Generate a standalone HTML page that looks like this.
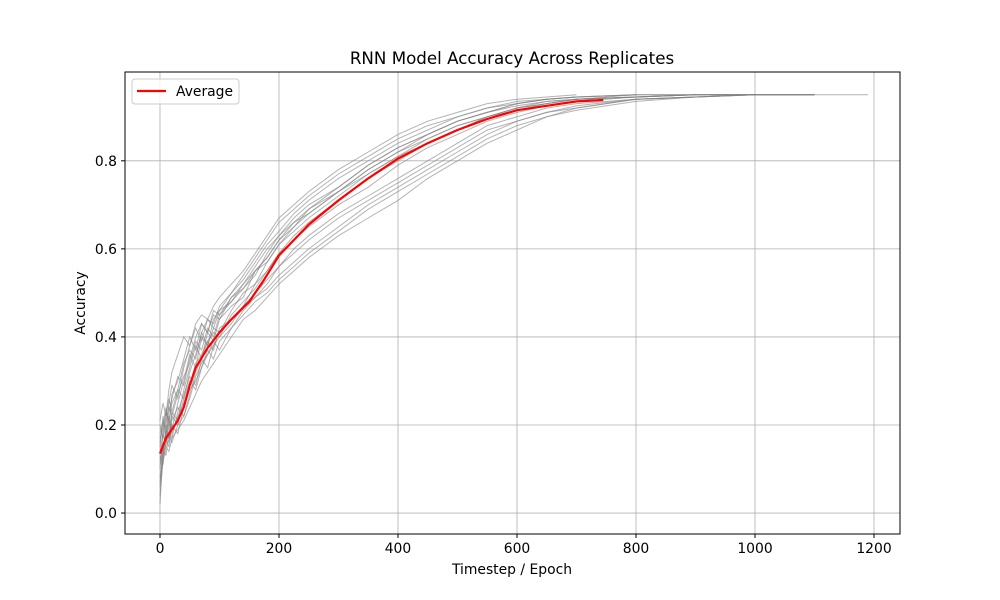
<!DOCTYPE html>
<html><head><meta charset="utf-8">
<style>
html,body{margin:0;padding:0;background:#fff;}
svg{display:block;font-family:"DejaVu Sans","Liberation Sans",sans-serif;}
</style></head>
<body>
<svg id="chart" width="1000" height="600" viewBox="0 0 1000 600">
<rect width="1000" height="600" fill="#fff"/>
<text x="512" y="64" font-size="16.7" text-anchor="middle">RNN Model Accuracy Across Replicates</text>
<g id="grid"></g>
<g id="series"></g>
<g id="avg"></g>
<rect x="125" y="72" width="775" height="462" fill="none" stroke="#000" stroke-width="1"/>
<g id="ticks"></g>
<text x="512" y="574" font-size="13.9" text-anchor="middle">Timestep / Epoch</text>
<text x="85" y="303" font-size="13.9" text-anchor="middle" transform="rotate(-90 85 303)">Accuracy</text>
<g>
<rect x="132" y="79" width="107" height="25" rx="3" fill="#fff" fill-opacity="0.8" stroke="#ccc"/>
<line x1="137" y1="91" x2="166" y2="91" stroke="red" stroke-width="2.2"/>
<text x="176" y="96" font-size="13.9">Average</text>
</g>
</svg>
<script>
const xTicks = [0,200,400,600,800,1000,1200];
const yTicks = [0.0,0.2,0.4,0.6,0.8];
const xs = [0,5,10,15,20,30,40,50,60,70,80,90,100,120,140,160,180,200,225,250,300,350,400,450,500,550,600,650,700,800,900,1000,1100,1190];
const r1 = [0.10,0.18,0.15,0.22,0.19,0.25,0.30,0.36,0.33,0.40,0.38,0.42,0.41,0.46,0.50,0.52,0.57,0.61,0.64,0.67,0.72,0.77,0.81,0.85,0.88,0.90,0.92,0.93,0.94,0.945,0.95,0.95];
const r2 = [0.04,0.12,0.20,0.17,0.23,0.21,0.28,0.33,0.38,0.35,0.41,0.39,0.44,0.47,0.49,0.55,0.58,0.62,0.66,0.68,0.73,0.78,0.82,0.86,0.89,0.91,0.925,0.935,0.94,0.945,0.95,0.95,0.95,0.95];
const r3 = [0.06,0.16,0.13,0.18,0.16,0.20,0.22,0.26,0.31,0.34,0.36,0.38,0.40,0.43,0.47,0.50,0.53,0.56,0.60,0.63,0.68,0.72,0.76,0.80,0.84,0.88,0.90,0.92,0.93,0.94,0.945];
const r4 = [0.16,0.20,0.24,0.19,0.27,0.30,0.35,0.40,0.37,0.43,0.41,0.45,0.44,0.49,0.52,0.56,0.60,0.63,0.67,0.70,0.74,0.79,0.83,0.86,0.89,0.91,0.93,0.94,0.945,0.95];
const r5 = [0.12,0.15,0.18,0.21,0.18,0.22,0.25,0.29,0.34,0.36,0.39,0.41,0.40,0.45,0.48,0.51,0.55,0.59,0.62,0.65,0.70,0.74,0.79,0.83,0.86,0.89,0.91,0.925,0.935,0.945,0.95,0.95,0.95];
const r6 = [0.20,0.17,0.22,0.26,0.23,0.28,0.26,0.32,0.36,0.41,0.38,0.44,0.46,0.48,0.51,0.55,0.57,0.61,0.65,0.69,0.73,0.78,0.82,0.85,0.88,0.90,0.92,0.935,0.94,0.95,0.95];
const r7 = [0.02,0.14,0.17,0.15,0.20,0.18,0.24,0.28,0.30,0.33,0.37,0.35,0.39,0.42,0.46,0.49,0.51,0.54,0.57,0.60,0.65,0.70,0.74,0.78,0.82,0.86,0.89,0.91,0.92,0.94,0.945,0.95];
const r8 = [0.15,0.22,0.19,0.25,0.29,0.26,0.33,0.38,0.42,0.39,0.44,0.43,0.47,0.50,0.53,0.57,0.61,0.64,0.68,0.71,0.76,0.80,0.84,0.87,0.90,0.92,0.93,0.94,0.945,0.95];
const r9 = [0.13,0.11,0.16,0.19,0.17,0.23,0.27,0.31,0.29,0.35,0.39,0.37,0.42,0.44,0.47,0.52,0.55,0.59,0.63,0.66,0.71,0.76,0.80,0.84,0.87,0.90,0.915,0.93,0.94,0.945,0.95,0.95,0.95];
const r10 = [0.18,0.21,0.17,0.23,0.26,0.31,0.29,0.35,0.40,0.43,0.41,0.46,0.45,0.49,0.51,0.54,0.59,0.63,0.66,0.69,0.74,0.79,0.83,0.86,0.89,0.91,0.93,0.94,0.945];
const r11 = [0.08,0.13,0.18,0.16,0.21,0.24,0.22,0.27,0.32,0.35,0.33,0.38,0.41,0.44,0.47,0.49,0.52,0.56,0.59,0.62,0.67,0.71,0.75,0.79,0.83,0.87,0.89,0.91,0.925,0.94,0.945,0.95,0.95];
const r12 = [0.17,0.19,0.23,0.21,0.25,0.28,0.34,0.37,0.35,0.41,0.44,0.42,0.46,0.50,0.54,0.58,0.62,0.66,0.69,0.72,0.77,0.81,0.85,0.88,0.90,0.92,0.935,0.94,0.945,0.95,0.95];
const r13 = [0.07,0.12,0.15,0.14,0.17,0.19,0.21,0.24,0.27,0.30,0.32,0.34,0.36,0.40,0.44,0.46,0.49,0.52,0.55,0.58,0.63,0.67,0.71,0.76,0.80,0.84,0.87,0.90,0.915,0.935,0.945,0.95,0.95];
const r14 = [0.21,0.25,0.22,0.28,0.32,0.36,0.40,0.38,0.43,0.45,0.44,0.47,0.49,0.52,0.55,0.59,0.63,0.67,0.70,0.73,0.78,0.82,0.86,0.89,0.91,0.93,0.94,0.945,0.95];
const r15 = [0.11,0.14,0.19,0.17,0.22,0.20,0.26,0.30,0.28,0.33,0.36,0.39,0.37,0.42,0.45,0.48,0.50,0.53,0.56,0.59,0.64,0.69,0.73,0.77,0.81,0.85,0.88,0.90,0.92,0.94,0.945,0.95];
const r16 = [0.14,0.18,0.21,0.24,0.22,0.27,0.31,0.34,0.39,0.37,0.42,0.40,0.45,0.48,0.52,0.55,0.58,0.62,0.65,0.68,0.73,0.77,0.81,0.84,0.87,0.90,0.92,0.93,0.94,0.945,0.95,0.95,0.95];
const replicates = [r1,r2,r3,r4,r5,r6,r7,r8,r9,r10,r11,r12,r13,r14,r15,r16];
const avgX = [0,10,20,30,40,50,60,80,100,120,150,175,200,250,300,350,400,450,500,550,600,650,700,745];
const avgY = [0.135,0.17,0.19,0.21,0.24,0.29,0.33,0.375,0.41,0.44,0.48,0.53,0.585,0.655,0.71,0.76,0.805,0.84,0.87,0.895,0.915,0.925,0.935,0.938];

const NS = "http://www.w3.org/2000/svg";
const L=125,R=900,T=72,B=534;
const xMin=-58.8,xMax=1243.7,yMin=-0.0476,yMax=1.0017;
function sx(v){return L+(v-xMin)/(xMax-xMin)*(R-L);}
function sy(v){return B-(v-yMin)/(yMax-yMin)*(B-T);}
function mk(tag,attrs,parent){const e=document.createElementNS(NS,tag);for(const k in attrs)e.setAttribute(k,attrs[k]);parent.appendChild(e);return e;}

const grid=document.getElementById('grid'), ticks=document.getElementById('ticks');
xTicks.forEach(t=>{
  const g=mk('line',{x1:sx(t),x2:sx(t),y1:T,y2:B,stroke:'#b0b0b0','stroke-width':0.8},grid);
  
  
  const tk=mk('line',{x1:sx(t),x2:sx(t),y1:B,y2:B+4,stroke:'#000'},ticks);
  
  
  const tx=mk('text',{x:sx(t),y:B+19,'font-size':13.9,'text-anchor':'middle'},ticks);
  tx.textContent=t;
  
  
});
yTicks.forEach(t=>{
  const g=mk('line',{x1:L,x2:R,y1:sy(t),y2:sy(t),stroke:'#b0b0b0','stroke-width':0.8},grid);
  
  
  const tk=mk('line',{x1:L-4,x2:L,y1:sy(t),y2:sy(t),stroke:'#000'},ticks);
  
  
  const tx=mk('text',{x:L-8,y:sy(t)+5,'font-size':13.9,'text-anchor':'end'},ticks);
  tx.textContent=t.toFixed(1);
  
  
});
const series=document.getElementById('series');
replicates.forEach((r,i)=>{
  const d=r.map((v,j)=>(j?'L':'M')+sx(xs[j]).toFixed(1)+' '+sy(v).toFixed(1)).join(' ');
  const p=mk('path',{d:d,fill:'none',stroke:'#808080','stroke-opacity':0.6,'stroke-width':1},series);
  
  
});
const avg=document.getElementById('avg');
const ad=avgY.map((v,j)=>(j?'L':'M')+sx(avgX[j]).toFixed(1)+' '+sy(v).toFixed(1)).join(' ');
const ap=mk('path',{d:ad,fill:'none',stroke:'red','stroke-width':2.2,'stroke-linejoin':'round'},avg);


</script>
</body></html>
